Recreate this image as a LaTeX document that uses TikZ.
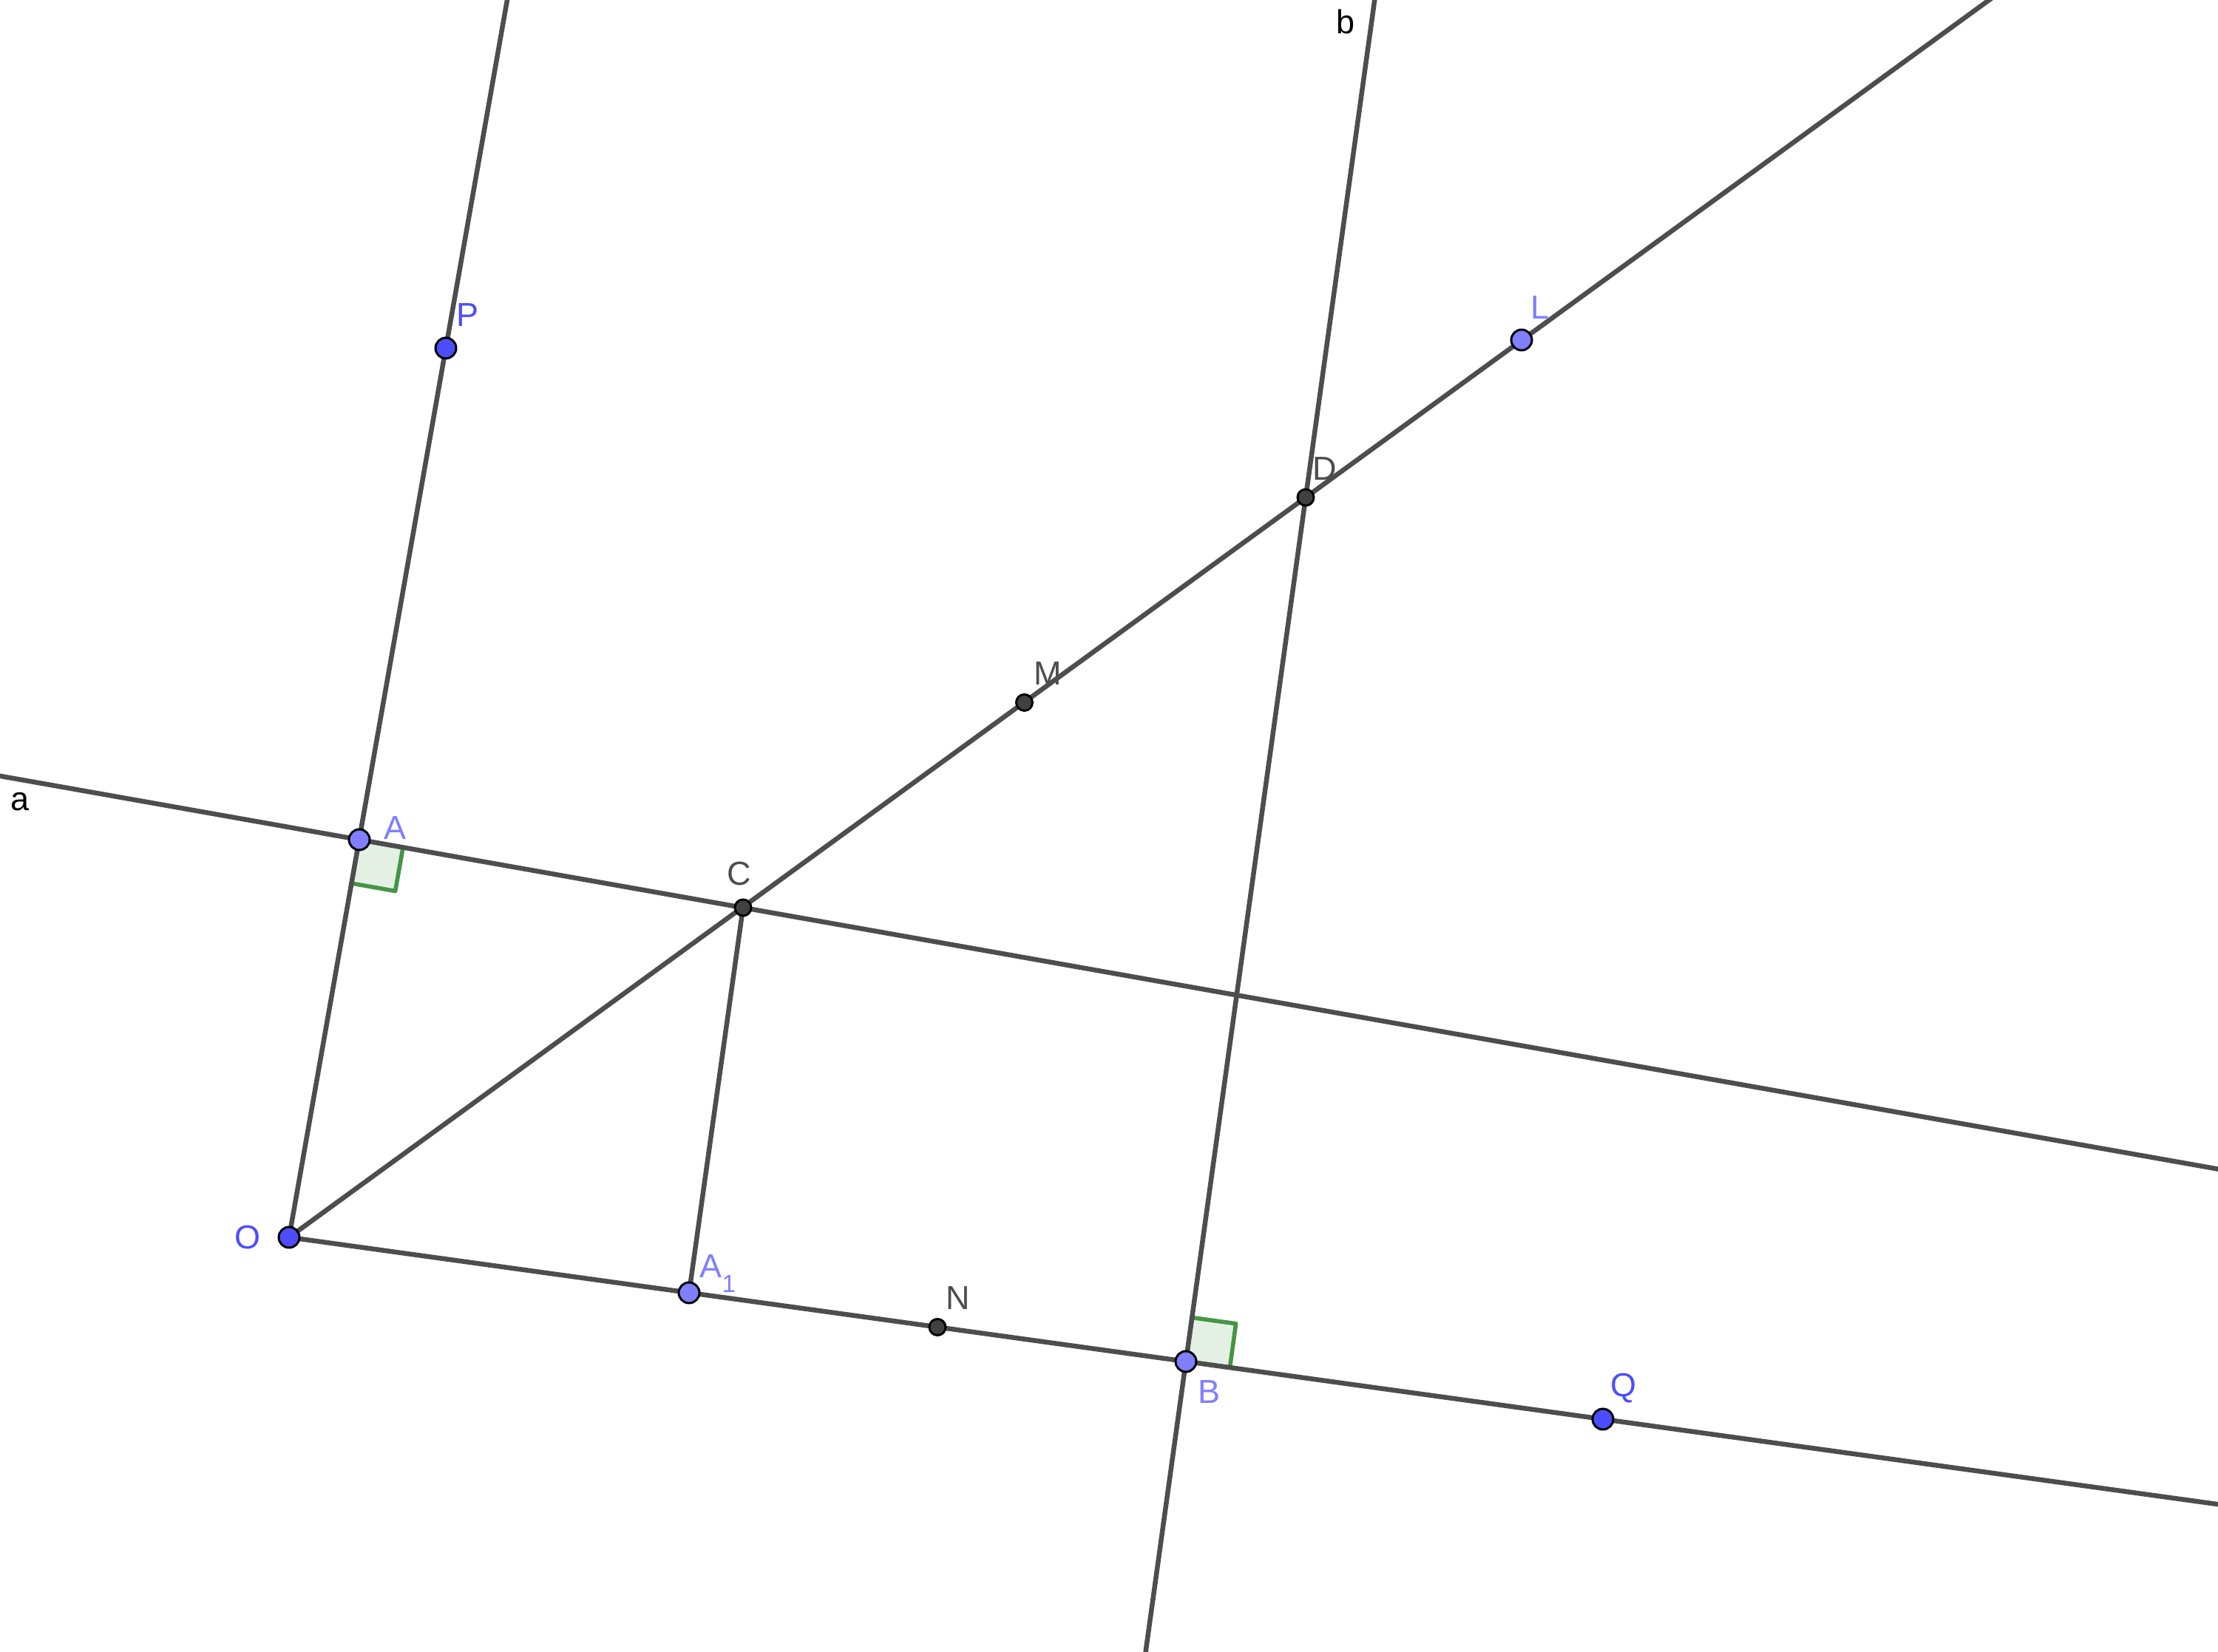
\documentclass[tikz,border=0pt]{standalone}
\usepackage{fontspec}
\setmainfont{Liberation Sans}
\usetikzlibrary{positioning,calc}

\definecolor{lineGray}{RGB}{77,77,77}
\definecolor{freeBlue}{RGB}{77,77,255}
\definecolor{depBlue}{RGB}{127,127,255}
\definecolor{angGreen}{RGB}{68,150,68}
\definecolor{angFill}{RGB}{229,240,229}

\begin{document}
\begin{tikzpicture}[
      line/.style={draw=lineGray, line width=1.85pt},
      pt/.style={circle, draw=black, line width=0.85pt, inner sep=0pt, minimum size=0.28cm},
      free/.style={pt, fill=freeBlue},
      dep/.style={pt, fill=depBlue},
      isec/.style={pt, fill=lineGray!85!black, minimum size=0.22cm},
      lbl/.style={font=\fontsize{12.8}{15}\selectfont, inner sep=0pt, on grid},
      rangle/.style={draw=angGreen, fill=angFill, line width=1.6pt, line join=round}
      ]
      \useasboundingbox (0,0) rectangle (30,22.35);
      \clip (0,0) rectangle (30,22.35);

      \coordinate (O)  at (3.91,5.61);
      \coordinate (A)  at (4.86,10.99);
      \coordinate (P)  at (6.03,17.64);
      \coordinate (A1) at (9.32,4.86);
      \coordinate (B)  at (16.04,3.93);
      \coordinate (Q)  at (21.68,3.15);
      \coordinate (C)  at (10.05,10.07);
      \coordinate (D)  at (17.66,15.62);
      \coordinate (L)  at (20.58,17.75);
      \coordinate (M)  at ($(C)!0.5!(D)$);
      \coordinate (N)  at ($(A1)!0.5!(B)$);

      % free ends of the lines
      \coordinate (endP) at ($(O)!1.5!(P)$);
      \coordinate (endQ) at ($(O)!1.6!(Q)$);
      \coordinate (endL) at ($(O)!1.8!(D)$);
      \coordinate (a1) at ($(A)!-1.2!(C)$);
      \coordinate (a2) at ($(A)!5!(C)$);
      \coordinate (b1) at ($(B)!-0.5!(D)$);
      \coordinate (b2) at ($(B)!1.7!(D)$);

      % right angles
      \coordinate (ra1) at ($(A)!0.6cm!(C)$);
      \coordinate (ra2) at ($(A)!0.6cm!(O)$);
      \draw[rangle] (A) -- (ra1) -- ($(ra1)+(ra2)-(A)$) -- (ra2) -- cycle;
      \coordinate (rb1) at ($(B)!0.6cm!(Q)$);
      \coordinate (rb2) at ($(B)!0.6cm!(D)$);
      \draw[rangle] (B) -- (rb1) -- ($(rb1)+(rb2)-(B)$) -- (rb2) -- cycle;

      % lines
      \draw[line] (O) -- (endP);
      \draw[line] (O) -- (endQ);
      \draw[line] (O) -- (endL);
      \draw[line] (a1) -- (a2);
      \draw[line] (b1) -- (b2);
      \draw[line] (C) -- (A1);

      % points
      \node[free] (dO)  at (O)  {};
      \node[free] (dP)  at (P)  {};
      \node[free] (dQ)  at (Q)  {};
      \node[dep]  (dA)  at (A)  {};
      \node[dep]  (dB)  at (B)  {};
      \node[dep]  (dA1) at (A1) {};
      \node[dep]  (dL)  at (L)  {};
      \node[isec] (dC)  at (C)  {};
      \node[isec] (dD)  at (D)  {};
      \node[isec] (dM)  at (M)  {};
      \node[isec] (dN)  at (N)  {};

      % labels
      \node[lbl, text=freeBlue, left=0.56 of dO] (lO) {O};
      \node[lbl, text=freeBlue, above right=0.45 and 0.29 of dP] (lP) {P};
      \node[lbl, text=freeBlue, above right=0.42 and 0.28 of dQ] (lQ) {Q};
      \node[lbl, text=depBlue, above right=0.16 and 0.48 of dA] (lA) {A};
      \node[lbl, text=depBlue, below right=0.41 and 0.31 of dB] (lB) {B};
      \node[lbl, text=depBlue, above right=0.26 and 0.39 of dA1] (lA1)
            {A\raisebox{-0.2cm}{\fontsize{9.5}{11}\selectfont 1}};
      \node[lbl, text=depBlue, above right=0.44 and 0.25 of dL] (lL) {L};
      \node[lbl, text=lineGray, above left=0.46 and 0.05 of dC] (lC) {C};
      \node[lbl, text=lineGray, above right=0.39 and 0.26 of dD] (lD) {D};
      \node[lbl, text=lineGray, above right=0.39 and 0.32 of dM] (lM) {M};
      \node[lbl, text=lineGray, above right=0.39 and 0.28 of dN] (lN) {N};
      \node[lbl] (la) at (0.27,11.50) {a};
      \node[lbl] (lb) at (18.20,22.06) {b};

\end{tikzpicture}
\end{document}
